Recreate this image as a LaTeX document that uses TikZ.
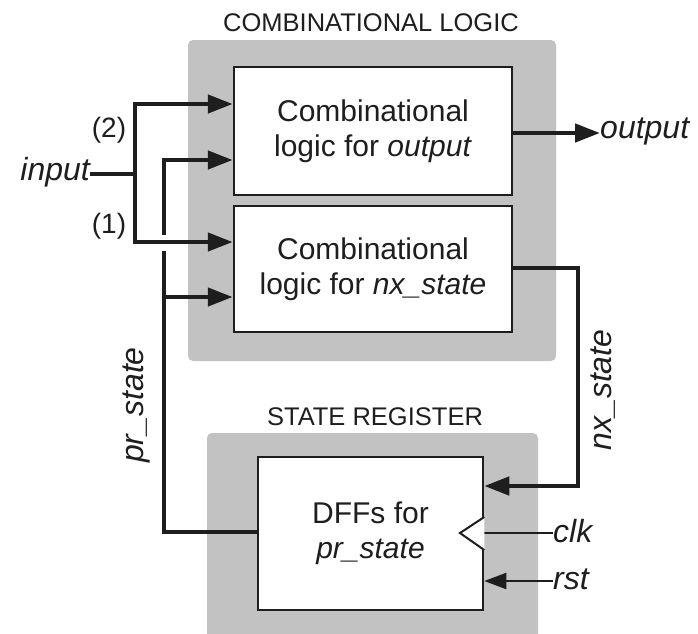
\documentclass[tikz,border=0pt]{standalone}
\usepackage{fontspec}
\setmainfont{Liberation Sans}
\usetikzlibrary{arrows.meta}
\definecolor{panel}{RGB}{194,194,194}
\definecolor{ink}{RGB}{30,30,30}
\tikzset{
  panelbox/.style={fill=panel, draw=none, rounded corners=5pt},
  logicbox/.style={draw=ink, fill=white, line width=2.5pt, align=center,
     font=\fontsize{30}{35}\selectfont, inner sep=0pt, text=ink},
  wire/.style={draw=ink, line width=4.5pt},
  arr/.style={-{Triangle[length=25pt,width=18pt]}},
  thinwire/.style={draw=ink, line width=2pt},
  lbl/.style={font=\fontsize{32}{36}\selectfont\itshape, inner sep=0pt, text=ink},
  title/.style={font=\fontsize{25.5}{30}\selectfont, inner sep=0pt, text=ink},
  num/.style={font=\fontsize{28}{32}\selectfont, inner sep=0pt, text=ink}
}
\begin{document}
\begin{tikzpicture}[x=1pt,y=-1pt]
\useasboundingbox (0,0) rectangle (698,633);
% panels
\fill[panelbox] (188,40) rectangle (556,361);
\fill[panelbox] (207,433) rectangle (538,640);
\node[title] (t1) at (371,23) {COMBINATIONAL LOGIC};
\node[title] (t2) at (375,417) {STATE REGISTER};
% boxes
\node[logicbox, minimum width=278pt, minimum height=128pt] (box1) at (373,131)
  {Combinational\\logic for \textit{output}};
\node[logicbox, minimum width=278pt, minimum height=126pt] (box2) at (373,269)
  {Combinational\\logic for \textit{nx\_state}};
\node[logicbox, minimum width=225pt, minimum height=153pt] (dff) at (370.5,533.5)
  {DFFs for\\\textit{pr\_state}};
% labels
\node[lbl, anchor=east] (input) at (90,172) {input};
\node[lbl, anchor=west] (output) at (600,131) {output};
\node[lbl, anchor=west] (clk) at (553,531) {clk};
\node[lbl, anchor=west] (rst) at (553,579) {rst};
\node[num] (n2) at (109,130) {(2)};
\node[num] (n1) at (109,226) {(1)};
\node[lbl, rotate=90] (prs) at (136,405) {pr\_state};
\node[lbl, rotate=90] (nxs) at (603,390) {nx\_state};
% input fan-out
\coordinate (jin) at (135,174);
\draw[wire] (input.east |- jin) -- (jin);
\draw[wire, arr] (jin) -- (135,104) -- (box1.west |- 0,104);
\draw[wire, arr] (jin) -- (135,242) -- (box2.west |- 0,242);
% pr_state feedback
\draw[wire] (dff.west |- 0,532) -- (164,532) -- (164,251);
\draw[wire, arr] (164,235) -- (164,160) -- (box1.west |- 0,160);
\draw[wire, arr] (164,297) -- (box2.west |- 0,297);
% output
\draw[wire, arr] (box1.east |- 0,133) -- (output.west |- 0,133);
% nx_state
\draw[wire, arr] (box2.east |- 0,268) -- (578,268) -- (578,486) -- (dff.east |- 0,486);
% clk
\draw[thinwire] (dff.east |- 0,533) -- (clk.west |- 0,533);
\draw[draw=ink, line width=2pt, fill=white] (dff.east |- 0,517) -- (460,533) -- (dff.east |- 0,550);
% rst
\draw[thinwire, -{Triangle[length=22pt,width=16pt]}] (rst.west |- 0,581) -- (dff.east |- 0,581);
\end{tikzpicture}
\end{document}
